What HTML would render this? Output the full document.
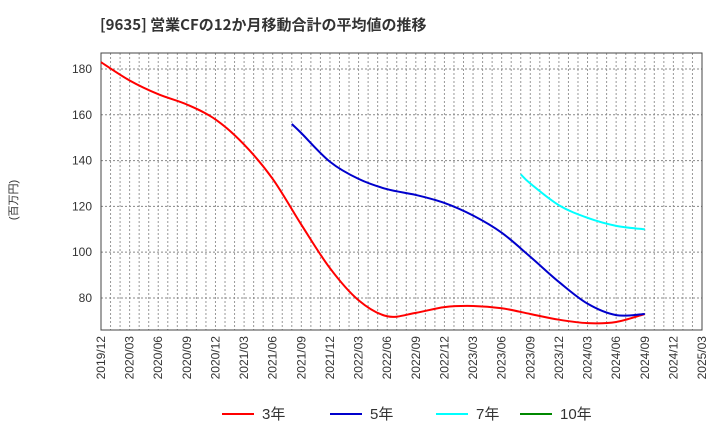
<!DOCTYPE html>
<html><head><meta charset="utf-8">
<style>
body{margin:0;background:#fff;font-family:"Liberation Sans","Noto Sans CJK JP",sans-serif;}
svg text{font-family:"Liberation Sans","Noto Sans CJK JP",sans-serif;}
</style></head>
<body>
<svg id="c" width="720" height="440">
<text x="100" y="30" font-size="15" font-weight="bold" fill="#333" style="font-family:'Noto Sans CJK JP','Liberation Sans',sans-serif">[9635]  営業CFの12か月移動合計の平均値の推移</text>
<text transform="translate(17,200) rotate(-90)" text-anchor="middle" font-size="11" fill="#333">(百万円)</text>
</svg>
<script>
const xLabels=["2019/12","2020/03","2020/06","2020/09","2020/12","2021/03","2021/06","2021/09","2021/12","2022/03","2022/06","2022/09","2022/12","2023/03","2023/06","2023/09","2023/12","2024/03","2024/06","2024/09","2024/12","2025/03"];
const yTicks=[80,100,120,140,160,180];
const dates3=["2019/12","2020/03","2020/06","2020/09","2020/12","2021/03","2021/06","2021/09","2021/12","2022/03","2022/06","2022/09","2022/12","2023/03","2023/06","2023/09","2023/12","2024/03","2024/06","2024/09"];
const vals3=[183,175,169,164.5,158,147,132,112,93,79,72,73.5,76,76.5,75.5,73,70.5,69,69.5,73];
const dates5=["2021/08","2021/09","2021/12","2022/03","2022/06","2022/09","2022/12","2023/03","2023/06","2023/09","2023/12","2024/03","2024/06","2024/09"];
const vals5=[156,152,139.5,132,127.5,125,121.5,116,108.5,98,87,77.5,72.5,73];
const dates7=["2023/08","2023/09","2023/12","2024/03","2024/06","2024/09"];
const vals7=[134,130,120.5,115,111.5,110];
const L=101,R=702,T=53,B=330,yMin=66,yMax=187;
const mIdx=d=>{const[a,b]=d.split("/").map(Number);return (a-2019)*12+b-12;};
const X=d=>L+mIdx(d)*(R-L)/63;
const Y=v=>B-(v-yMin)*(B-T)/(yMax-yMin);
const svg=document.getElementById('c');const NS="http://www.w3.org/2000/svg";
function mk(t,a,p){const e=document.createElementNS(NS,t);for(const k in a)e.setAttribute(k,a[k]);(p||svg).appendChild(e);return e;}
const grid=mk('g',{});


for(let m=1;m<63;m++){const x=L+m*(R-L)/63;mk('line',{x1:x,x2:x,y1:T,y2:B,stroke:'#999','stroke-dasharray':'2,2','stroke-width':1},grid);}
yTicks.forEach(v=>{mk('line',{x1:L,x2:R,y1:Y(v),y2:Y(v),stroke:'#888','stroke-dasharray':'2,2'},grid);
const t=mk('text',{x:L-9,y:Y(v)+4,'text-anchor':'end','font-size':12,fill:'#333'});t.textContent=v;

});
xLabels.forEach(d=>{const x=X(d);const t=mk('text',{transform:`translate(${x+4},${B+6}) rotate(-90)`,'text-anchor':'end','font-size':12,fill:'#333'});t.textContent=d;

});
const fr=mk('rect',{x:L,y:T,width:R-L,height:B-T,fill:'none',stroke:'#444','stroke-width':1});


function path(ds,vs){const p=ds.map((d,i)=>[X(d),Y(vs[i])]);let s=`M${p[0][0]},${p[0][1]}`;
for(let i=0;i<p.length-1;i++){const p0=p[i-1]||p[i],p1=p[i],p2=p[i+1],p3=p[i+2]||p2;
s+=` C${p1[0]+(p2[0]-p0[0])/6},${p1[1]+(p2[1]-p0[1])/6} ${p2[0]-(p3[0]-p1[0])/6},${p2[1]-(p3[1]-p1[1])/6} ${p2[0]},${p2[1]}`;}return s;}
const s3=mk('path',{d:path(dates3,vals3),fill:'none',stroke:'#f00','stroke-width':2});


const s5=mk('path',{d:path(dates5,vals5),fill:'none',stroke:'#00c','stroke-width':2});


const s7=mk('path',{d:path(dates7,vals7),fill:'none',stroke:'#0ff','stroke-width':2});


const leg=[["3年","#f00",222],["5年","#00c",330],["7年","#0ff",436],["10年","#080",520]];
leg.forEach(([n,c,x])=>{const g=mk('g',{});


mk('line',{x1:x,x2:x+32,y1:414,y2:414,stroke:c,'stroke-width':2},g);
const t=mk('text',{x:x+40,y:419,'font-size':15,fill:'#333'},g);t.textContent=n;});
</script>
</body></html>
